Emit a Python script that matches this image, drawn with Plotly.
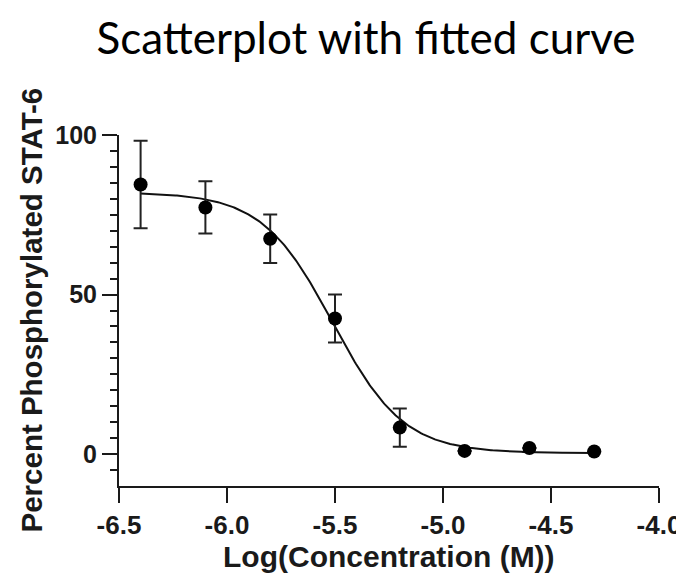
import numpy as np
import plotly.graph_objects as go

# Data
log_conc = [-6.4, -6.1, -5.8, -5.5, -5.2, -4.9, -4.6, -4.3]
pct_stat6 = [84.5, 77.3, 67.5, 42.5, 8.3, 1.0, 1.9, 0.8]
err = [13.7, 8.2, 7.6, 7.5, 6.0, 0.0, 0.0, 0.0]

# 4-parameter logistic fit parameters
fit_top = 82.0
fit_bottom = 0.3
fit_logic50 = -5.51
fit_hill = 2.65

x_ticks = [-6.5, -6.0, -5.5, -5.0, -4.5, -4.0]
x_ticktext = ["-6.5", "-6.0", "-5.5", "-5.0", "-4.5", "-4.0"]
y_ticks = [0, 50, 100]
y_ticktext = ["0", "50", "100"]
y_minor = [v for v in range(-5, 100, 5) if v not in y_ticks]

curve_x = np.linspace(min(log_conc), max(log_conc), 300)
curve_y = fit_bottom + (fit_top - fit_bottom) / (1 + 10 ** ((curve_x - fit_logic50) * fit_hill))

# page body has an 8px margin, so the figure is drawn smaller and offset
OFF = 8
W, H = 684 - OFF, 581 - 2 * OFF
L, T = 119 - OFF, 135 - OFF
R = W - (659 - OFF)
B = H - (486 - OFF)
PH = H - T - B
PW = W - L - R

AX = "#1a1a1a"
fig = go.Figure()
fig.add_trace(go.Scatter(x=curve_x, y=curve_y, mode="lines",
                         line=dict(color="#111111", width=2), showlegend=False,
                         hoverinfo="skip"))
fig.add_trace(go.Scatter(x=log_conc, y=pct_stat6, mode="markers",
                         marker=dict(color="#000000", size=14),
                         error_y=dict(type="data", array=err, visible=True,
                                      color="#222222", thickness=2, width=7),
                         showlegend=False))

fig.update_layout(
    width=W, height=H,
    margin=dict(l=L, r=R, t=T, b=B, autoexpand=False),
    paper_bgcolor="white", plot_bgcolor="white",
    title=dict(text="Scatterplot with fitted curve", xref="container", yref="container",
               x=(366 - OFF) / W, y=1 - (39 - OFF) / H, xanchor="center", yanchor="middle",
               font=dict(family="Lato", size=44, color="#000000")),
    xaxis=dict(range=[-6.5, -4.0], tickmode="array", tickvals=x_ticks, ticktext=x_ticktext,
               showgrid=False, zeroline=False, showline=True, linecolor=AX, linewidth=2,
               ticks="outside", ticklen=15, tickwidth=2, tickcolor=AX,
               ticklabeloverflow="allow",
               tickfont=dict(family="Liberation Sans", size=26, color=AX, weight="bold")),
    yaxis=dict(range=[-10, 100], tickmode="array", tickvals=y_ticks, ticktext=y_ticktext,
               showgrid=False, zeroline=False, showline=True, linecolor=AX, linewidth=2,
               ticks="outside", ticklen=15, tickwidth=2, tickcolor=AX,
               tickfont=dict(family="Liberation Sans", size=25, color=AX, weight="bold"),
               minor=dict(tickmode="array", tickvals=y_minor, ticks="outside",
                          ticklen=7, tickwidth=2, tickcolor=AX, showgrid=False)),
    annotations=[
        dict(text="<b>Log(Concentration (M))</b>", xref="paper", yref="paper",
             x=0.5, y=(486 - 556) / PH, xanchor="center", yanchor="middle",
             showarrow=False, font=dict(family="Liberation Sans", size=30, color=AX)),
        dict(text="<b>Percent Phosphorylated STAT-6</b>", xref="paper", yref="paper",
             x=(31 - 119) / PW, y=0.5, xanchor="center", yanchor="middle", textangle=-90,
             showarrow=False, font=dict(family="Liberation Sans", size=29.5, color=AX)),
    ],
)

fig.write_html("out.html")
